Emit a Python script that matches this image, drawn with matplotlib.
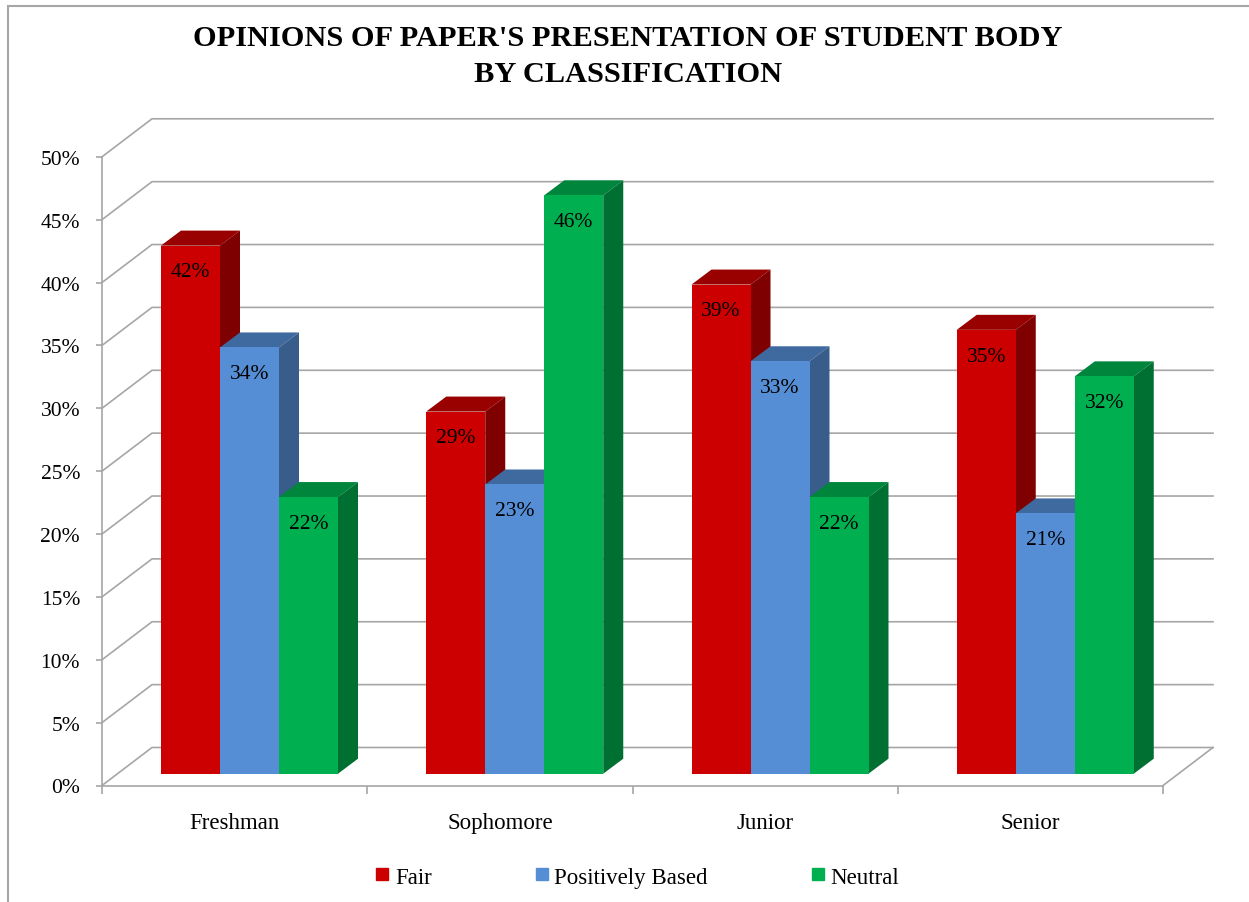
import numpy as np
import matplotlib
matplotlib.use('Agg')
import matplotlib.pyplot as plt
from matplotlib.lines import Line2D
from matplotlib.patches import Polygon, Rectangle

plt.rcParams['font.family'] = ['Liberation Serif', 'DejaVu Serif']

categories = ['Freshman', 'Sophomore', 'Junior', 'Senior']
fair = [42.0, 28.8, 38.9, 35.3]
positively_based = [33.9, 23.0, 32.8, 20.7]
neutral = [22.0, 46.0, 22.0, 31.6]
y_ticks = [0, 5, 10, 15, 20, 25, 30, 35, 40, 45, 50]

series_names = ['Fair', 'Positively Based', 'Neutral']
series_values = [fair, positively_based, neutral]
front_colors = ['#cc0000', '#558ed5', '#00b050']
top_colors = ['#990000', '#3f6a9f', '#00853d']
side_colors = ['#7f0000', '#385d8a', '#006f32']

W, H = 1249, 903
GRID = '#a6a6a6'

fig = plt.figure(figsize=(W/100, H/100), dpi=100)

# axes placed so that the front plane of the fake 3D box lands in the right spot
left, right, bottom, top = 102, 1163, 786.5, 157.8
ax = fig.add_axes([left/W, 1-bottom/H, (right-left)/W, (bottom-top)/H])
ax.set_xlim(0, 4)
ax.set_ylim(0, 50)
ax.patch.set_visible(False)

px = 4/(right-left)         # x data units per pixel
py = 50/(bottom-top)        # y data units per pixel

wall_dx, wall_dy = 50*px, 38*py     # depth of the box
bar_dx, bar_dy = 20*px, 15*py       # depth of a bar
floor_x, floor_y = 59*px, 11.8*py   # where the first bar starts
bar_w = 59*px

# walls
for t in y_ticks:
    ax.plot([0, wall_dx, 4+wall_dx], [t, t+wall_dy, t+wall_dy], color=GRID, lw=1.2,
            clip_on=False, zorder=1, solid_joinstyle='miter')
ax.plot([4, 4+wall_dx], [0, wall_dy], color=GRID, lw=1.2, clip_on=False, zorder=1)

# bars, one series at a time so the next front covers the previous side
for i, cat in enumerate(categories):
    for s, values in enumerate(series_values):
        v = values[i]
        x0 = i + floor_x + s*bar_w
        z = 3 + i*3 + s
        ax.bar(x0, v, bar_w, bottom=floor_y, align='edge', color=front_colors[s],
               clip_on=False, zorder=z + 0.5)
        y1 = floor_y + v
        ax.add_patch(Polygon([(x0, y1), (x0+bar_dx, y1+bar_dy), (x0+bar_w+bar_dx, y1+bar_dy), (x0+bar_w, y1)],
                             closed=True, fc=top_colors[s], ec='none', clip_on=False, zorder=z))
        ax.add_patch(Polygon([(x0+bar_w, floor_y), (x0+bar_w+bar_dx, floor_y+bar_dy), (x0+bar_w+bar_dx, y1+bar_dy), (x0+bar_w, y1)],
                             closed=True, fc=side_colors[s], ec='none', clip_on=False, zorder=z))
        ax.annotate(f'{round(v)}%', xy=(x0+bar_w/2, y1), xytext=(0, -19), textcoords='offset points',
                    ha='center', va='center', fontsize=15.5, color='black', zorder=50)

# axes look
for name in ['top', 'right']:
    ax.spines[name].set_visible(False)
for name in ['left', 'bottom']:
    ax.spines[name].set_color(GRID)
    ax.spines[name].set_linewidth(1.2)
    ax.spines[name].set_zorder(2)

ax.set_yticks(y_ticks)
ax.set_yticklabels([f'{t}%' for t in y_ticks], fontsize=15.5)
ax.tick_params(axis='y', length=4.3, width=1.2, color=GRID, pad=11.5)
ax.set_xticks(np.arange(5))
ax.set_xticklabels([])
ax.tick_params(axis='x', which='major', length=5.8, width=1.2, color=GRID)
ax.set_xticks(np.arange(4)+0.5, categories, minor=True, fontsize=16.5)
ax.tick_params(axis='x', which='minor', length=0, pad=19)

fig.text(628/W, 1-56.5/H, "OPINIONS OF PAPER'S PRESENTATION OF STUDENT BODY\nBY CLASSIFICATION",
         ha='center', va='center', fontsize=21.9, fontweight='bold', linespacing=1.42)

handles = [Line2D([], [], ls='none', marker='s', ms=8.5, color=c) for c in front_colors]
fig.legend(handles, series_names, ncol=3, loc='center', bbox_to_anchor=(635/W, 1-878/H), frameon=False,
           fontsize=16.5, columnspacing=4.3, handlelength=1, handletextpad=0.05)

# chart frame
fig.add_artist(Rectangle((8/W, -0.01), 2, 1.01-6.5/H, transform=fig.transFigure, fill=False, ec=GRID, lw=1.5))

fig.savefig('out.png', dpi=100)
